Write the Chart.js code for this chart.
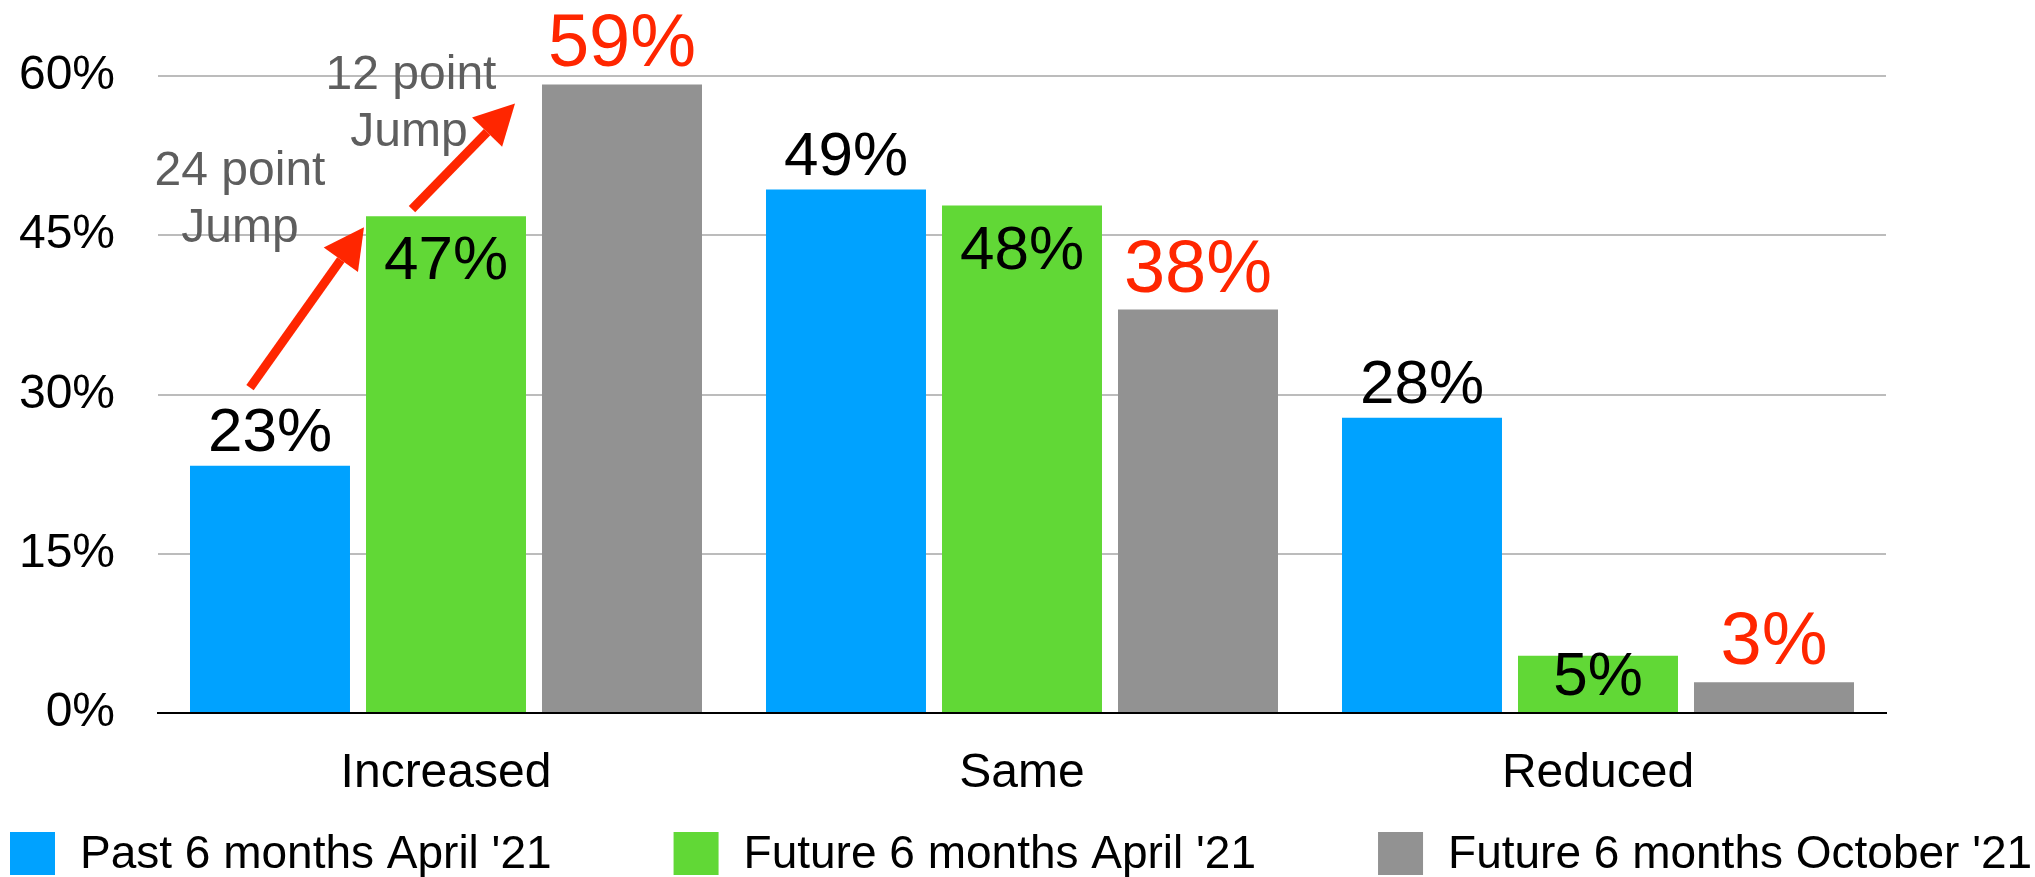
<!DOCTYPE html>
<html>
<head>
<meta charset="utf-8">
<title>Increased / Same / Reduced</title>
<script src="https://cdn.jsdelivr.net/npm/chart.js@4/dist/chart.umd.min.js"></script>
<style>
  html, body { margin: 0; padding: 0; background: #fff; }
  #wrap { width: 2035px; height: 877px; position: relative; }
</style>
</head>
<body>
<div id="wrap"><canvas id="jumpChart"></canvas></div>
<script>
// Data
const categories = ['Increased', 'Same', 'Reduced'];
const seriesNames = ['Past 6 months April \'21', 'Future 6 months April \'21', 'Future 6 months October \'21'];
const pastApril = [23.3, 49.3, 27.8];
const futureApril = [46.8, 47.8, 5.4];
const futureOctober = [59.2, 38.0, 2.9];
const pastAprilLabels = ['23%', '49%', '28%'];
const futureAprilLabels = ['47%', '48%', '5%'];
const futureOctoberLabels = ['59%', '38%', '3%'];
const yTicks = [0, 15, 30, 45, 60];
const notes = [['24 point', 'Jump'], ['12 point', 'Jump']];

const FONT = "'Liberation Sans', Arial, Helvetica, sans-serif";
const RED = '#ff2600';

// labels above / inside bars
const barLabels = {
    id: 'barLabels',
    afterDatasetsDraw(chart) {
        const ctx = chart.ctx;
        const base = chart.scales.y.getPixelForValue(0);
        ctx.save();
        ctx.textAlign = 'center';
        ctx.textBaseline = 'alphabetic';
        chart.data.datasets.forEach((ds, i) => {
            chart.getDatasetMeta(i).data.forEach((bar, j) => {
                const txt = ds.valueLabels[j];
                if (i === 1) {
                    // inside the top of the green bars
                    ctx.fillStyle = '#000';
                    ctx.font = '62px ' + FONT;
                    ctx.fillText(txt, bar.x, Math.min(bar.y + 63, base - 18));
                } else if (i === 2) {
                    ctx.fillStyle = RED;
                    ctx.font = '74px ' + FONT;
                    ctx.fillText(txt, bar.x, bar.y - 18);
                } else {
                    ctx.fillStyle = '#000';
                    ctx.font = '62px ' + FONT;
                    ctx.fillText(txt, bar.x, bar.y - 15);
                }
            });
        });
        ctx.restore();
    }
};

function drawArrow(ctx, x1, y1, x2, y2) {
    const ang = Math.atan2(y2 - y1, x2 - x1);
    const headLen = 40, headHalf = 21;
    const bx = x2 - headLen * Math.cos(ang);
    const by = y2 - headLen * Math.sin(ang);
    ctx.strokeStyle = RED;
    ctx.fillStyle = RED;
    ctx.lineWidth = 9;
    ctx.beginPath();
    ctx.moveTo(x1, y1);
    ctx.lineTo(bx, by);
    ctx.stroke();
    ctx.beginPath();
    ctx.moveTo(x2, y2);
    ctx.lineTo(bx + headHalf * Math.sin(ang), by - headHalf * Math.cos(ang));
    ctx.lineTo(bx - headHalf * Math.sin(ang), by + headHalf * Math.cos(ang));
    ctx.closePath();
    ctx.fill();
}

// "point Jump" notes with red arrows on the Increased group
const jumpNotes = {
    id: 'jumpNotes',
    afterDraw(chart) {
        const ctx = chart.ctx;
        const blue = chart.getDatasetMeta(0).data[0];
        const green = chart.getDatasetMeta(1).data[0];
        const gray = chart.getDatasetMeta(2).data[0];
        const greenLeft = green.x - green.width / 2;
        const grayLeft = gray.x - gray.width / 2;
        ctx.save();
        drawArrow(ctx, blue.x - 20, blue.y - 78, greenLeft - 2, green.y + 11);
        drawArrow(ctx, green.x - 34, green.y - 7, grayLeft - 27, gray.y + 19);

        ctx.fillStyle = '#5e5e5e';
        ctx.font = '48px ' + FONT;
        ctx.textAlign = 'center';
        ctx.textBaseline = 'alphabetic';
        ctx.fillText(notes[0][0], greenLeft - 126, green.y - 31);
        ctx.fillText(notes[0][1], greenLeft - 126, green.y + 26);
        ctx.fillText(notes[1][0], grayLeft - 131, gray.y + 5);
        ctx.fillText(notes[1][1], grayLeft - 133, gray.y + 62);
        ctx.restore();
    }
};

// legend along the bottom edge
const bottomLegend = {
    id: 'bottomLegend',
    afterDraw(chart) {
        const ctx = chart.ctx;
        ctx.save();
        ctx.font = '46px ' + FONT;
        ctx.textBaseline = 'middle';
        ctx.textAlign = 'left';
        let x = 10;
        const top = 832, boxW = 45, boxH = 43;
        chart.data.datasets.forEach(ds => {
            ctx.fillStyle = ds.backgroundColor;
            ctx.fillRect(x, top, boxW, boxH);
            ctx.fillStyle = '#000';
            ctx.fillText(ds.label, x + boxW + 25, top + boxH / 2 + 2);
            x += boxW + 25 + ctx.measureText(ds.label).width + 122;
        });
        ctx.restore();
    }
};

const seriesValues = [pastApril, futureApril, futureOctober];
const seriesLabels = [pastAprilLabels, futureAprilLabels, futureOctoberLabels];
const seriesColors = ['#00a2ff', '#61d836', '#929292'];

new Chart(document.getElementById('jumpChart'), {
    type: 'bar',
    data: {
        labels: categories,
        datasets: seriesNames.map((name, i) => ({
            label: name,
            data: seriesValues[i],
            valueLabels: seriesLabels[i],
            backgroundColor: seriesColors[i],
            borderWidth: 0,
            categoryPercentage: 0.9167,
            barPercentage: 0.909
        }))
    },
    options: {
        responsive: true,
        maintainAspectRatio: false,
        animation: false,
        layout: { padding: { top: 76, right: 149, bottom: 83, left: 19 } },
        plugins: {
            legend: { display: false },
            tooltip: { enabled: false }
        },
        scales: {
            x: {
                grid: { display: false, drawTicks: false },
                border: { color: '#000', width: 2 },
                ticks: { color: '#000', padding: 32, font: { family: FONT, size: 48 } },
                afterFit(scale) { scale.height = 81; }
            },
            y: {
                min: 0,
                max: 60,
                afterBuildTicks(scale) {
                    scale.ticks = yTicks.map(v => ({ value: v }));
                },
                afterFit(scale) { scale.width = 139; },
                grid: {
                    color: ctx => ctx.tick.value === 0 ? '#000' : '#bcbcbc',
                    lineWidth: 2,
                    drawTicks: false
                },
                border: { display: false },
                ticks: {
                    color: '#000',
                    padding: 43,
                    font: { family: FONT, size: 48 },
                    callback: v => v + '%'
                }
            }
        }
    },
    plugins: [barLabels, jumpNotes, bottomLegend]
});
</script>
</body>
</html>
